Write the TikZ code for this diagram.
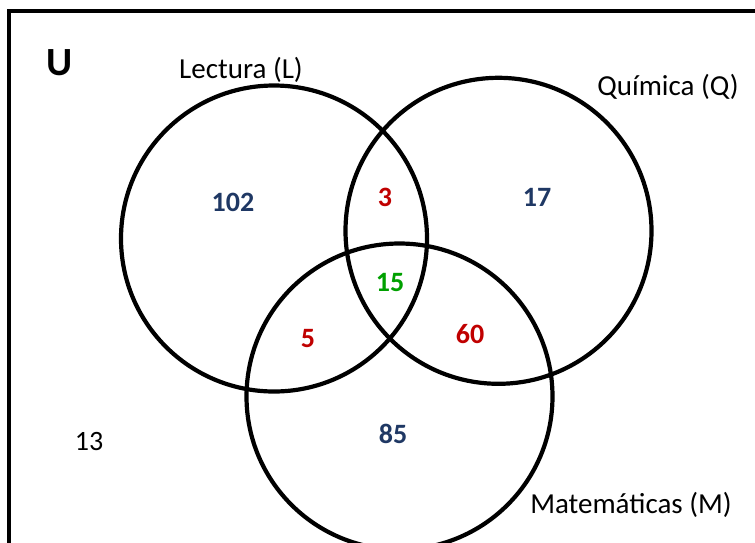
\documentclass[tikz,border=0pt]{standalone}
\usepackage{fontspec}
\setmainfont{Carlito}
\definecolor{navy}{HTML}{1F3864}
\definecolor{numred}{HTML}{C00000}
\definecolor{numgreen}{HTML}{00A000}
\begin{document}
\begin{tikzpicture}[x=1pt,y=-1pt,
  setcircle/.style={draw=black,line width=4.2pt},
  lbl/.style={font=\fontsize{29}{34}\selectfont,inner sep=0pt},
  num/.style={font=\fontsize{28}{33}\selectfont\bfseries,inner sep=0pt}]
\useasboundingbox (0,0) rectangle (755,542);
\begin{scope}
\clip (0,0) rectangle (755,542);
\draw[line width=3.2pt] (9,560) -- (9,11) -- (780,11);
\draw[setcircle] (274,238.5) circle (153);
\draw[setcircle] (498.5,230.8) circle (153);
\draw[setcircle] (399.5,396.5) circle (153);
\end{scope}
\node[font=\fontsize{40}{46}\selectfont\bfseries,inner sep=0pt] (u) at (60,63) {U};
\node[lbl] (lL) at (241,70) {Lectura (L)};
\node[lbl] (lQ) at (668,87) {Química (Q)};
\node[lbl] (lM) at (631,505) {Matemáticas (M)};
\node[num,font=\fontsize{28}{33}\selectfont] (n13) at (89,442) {13};
\node[num,text=navy] (n102) at (233,202) {102};
\node[num,text=numred] (n3) at (385,197) {3};
\node[num,text=navy] (n17) at (537,197) {17};
\node[num,text=numgreen] (n15) at (390,282) {15};
\node[num,text=numred] (n5) at (308,339) {5};
\node[num,text=numred] (n60) at (470,334) {60};
\node[num,text=navy] (n85) at (393,434) {85};
\end{tikzpicture}
\end{document}
